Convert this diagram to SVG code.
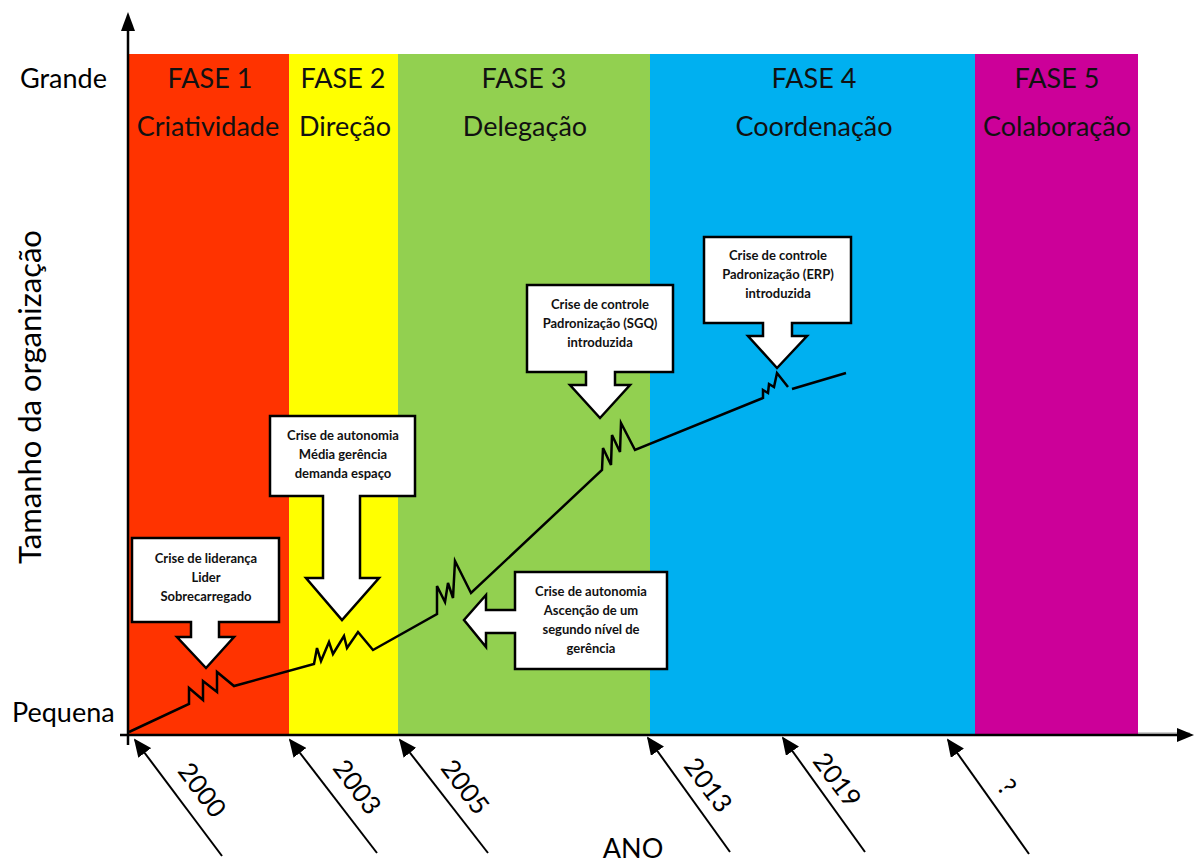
<svg xmlns="http://www.w3.org/2000/svg" width="1194" height="863" viewBox="0 0 1194 863">
<defs>
<style>
.big{font-family:Lato,"Liberation Sans",sans-serif;font-size:27px;fill:#000}
.yt{font-family:Lato,"Liberation Sans",sans-serif;font-size:31px;fill:#000;text-anchor:middle}
.ph{font-family:Lato,"Liberation Sans",sans-serif;font-size:27px;fill:#111;text-anchor:middle}
.co{font-family:Lato,"Liberation Sans",sans-serif;font-size:13px;font-weight:bold;fill:#111;text-anchor:middle}
.yr{font-family:Lato,"Liberation Sans",sans-serif;font-size:26px;fill:#000;text-anchor:middle}
.call{fill:#fff;stroke:#000;stroke-width:2.5;stroke-linejoin:miter}
.curve{fill:none;stroke:#000;stroke-width:2.5;stroke-linejoin:miter}
.ax{stroke:#000;stroke-width:2.5;fill:none}
.yl{stroke:#000;stroke-width:2;fill:none}
</style>
<marker id="ahs" viewBox="0 0 10 10" refX="9" refY="5" markerWidth="18" markerHeight="16" orient="auto" markerUnits="userSpaceOnUse" preserveAspectRatio="none">
<path d="M0,0 L10,5 L0,10 z" fill="#000"/>
</marker>
</defs>
<rect width="1194" height="863" fill="#fff"/>

<g id="bands">
<rect x="128" y="54" width="161" height="680" fill="#FF3300"/>
<rect x="289" y="54" width="109" height="680" fill="#FFFF00"/>
<rect x="398" y="54" width="252" height="680" fill="#92D050"/>
<rect x="650" y="54" width="325" height="680" fill="#00B0F0"/>
<rect x="975" y="54" width="163" height="680" fill="#CC0099"/>
<line x1="1138" y1="733" x2="1190" y2="733" stroke="#999" stroke-width="1"/>
</g>

<g id="phase-labels">
<text class="ph" x="210" y="88">FASE 1</text>
<text class="ph" x="208" y="136">Criatividade</text>
<text class="ph" x="343" y="88">FASE 2</text>
<text class="ph" x="345" y="136">Direção</text>
<text class="ph" x="524" y="88">FASE 3</text>
<text class="ph" x="525" y="136">Delegação</text>
<text class="ph" x="814" y="88">FASE 4</text>
<text class="ph" x="814" y="136">Coordenação</text>
<text class="ph" x="1057" y="88">FASE 5</text>
<text class="ph" x="1057" y="136">Colaboração</text>
</g>

<g id="axes">
<line class="ax" x1="128" y1="745" x2="128" y2="30"/>
<path d="M121,31 L128,12 L135,31 z" fill="#000"/>
<line class="ax" x1="120" y1="735" x2="1178" y2="735"/>
<path d="M1177,728 L1194,735 L1177,742 z" fill="#000"/>
<text class="big" x="20" y="88">Grande</text>
<text class="big" x="12" y="722">Pequena</text>
<text class="yt" x="0" y="0" transform="translate(41,397) rotate(-90)">Tamanho da organização</text>
<text class="big" x="633" y="858" text-anchor="middle">ANO</text>
</g>

<g id="connectors">
<path class="curve" d="M129,732 L189,704 L189,688 L203,700 L203,681 L217,692 L217,672 L234,686 L314,664 L317,648 L321,661 L329,642 L333,654 L344,636 L347,648 L358,632 L373,650 L437,614 L437,586 L445,602 L448,583 L453,598 L455,561 L471,593 L602,470 L603,448 L611,465 L612,435 L620,452 L621,423 L635,450 L763,398 L763,390 L768,393 L769,384 L774,387 L777,373 L788,387"/>
<line class="curve" x1="792" y1="389" x2="846" y2="373"/>
</g>

<g id="callout-1">
<path class="call" d="M132,538 H279 V622 H219 V637 H234 L206,668 L177,637 H191 V622 H132 Z"/>
<text class="co" x="206" y="563">Crise de liderança</text>
<text class="co" x="206" y="582">Lider</text>
<text class="co" x="206" y="601">Sobrecarregado</text>
</g>

<g id="callout-2">
<path class="call" d="M270,416 H415 V496 H360 V578 H379 L342,620 L306,578 H323 V496 H270 Z"/>
<text class="co" x="343" y="440">Crise de autonomia</text>
<text class="co" x="343" y="459">Média gerência</text>
<text class="co" x="343" y="478">demanda espaço</text>
</g>

<g id="callout-3">
<path class="call" d="M515,572 H667 V669 H515 V633 H486 V647 L464,620 L486,595 V610 H515 Z"/>
<text class="co" x="591" y="596">Crise de autonomia</text>
<text class="co" x="591" y="615">Ascenção de um</text>
<text class="co" x="591" y="634">segundo nível de</text>
<text class="co" x="591" y="653">gerência</text>
</g>

<g id="callout-4">
<path class="call" d="M527,285 H673 V372 H615 V385 H630 L600,418 L570,385 H586 V372 H527 Z"/>
<text class="co" x="600" y="309">Crise de controle</text>
<text class="co" x="600" y="328">Padronização (SGQ)</text>
<text class="co" x="600" y="347">introduzida</text>
</g>

<g id="callout-5">
<path class="call" d="M704,237 H851 V323 H792 V336 H807 L777,368 L748,336 H763 V323 H704 Z"/>
<text class="co" x="778" y="260">Crise de controle</text>
<text class="co" x="778" y="279">Padronização (ERP)</text>
<text class="co" x="778" y="298">introduzida</text>
</g>

<g id="year-2000">
<line class="yl" x1="222" y1="856" x2="135" y2="740" marker-end="url(#ahs)"/>
<text class="yr" transform="translate(202,790) rotate(53)" y="9">2000</text>
</g>
<g id="year-2003">
<line class="yl" x1="377" y1="853" x2="290" y2="740" marker-end="url(#ahs)"/>
<text class="yr" transform="translate(357,787) rotate(53)" y="9">2003</text>
</g>
<g id="year-2005">
<line class="yl" x1="488" y1="853" x2="400" y2="740" marker-end="url(#ahs)"/>
<text class="yr" transform="translate(465,787) rotate(53)" y="9">2005</text>
</g>
<g id="year-2013">
<line class="yl" x1="730" y1="852" x2="648" y2="738" marker-end="url(#ahs)"/>
<text class="yr" transform="translate(708,785) rotate(53)" y="9">2013</text>
</g>
<g id="year-2019">
<line class="yl" x1="865" y1="852" x2="783" y2="738" marker-end="url(#ahs)"/>
<text class="yr" transform="translate(837,780) rotate(53)" y="9">2019</text>
</g>
<g id="year-unknown">
<line class="yl" x1="1029" y1="854" x2="948" y2="740" marker-end="url(#ahs)"/>
<text class="yr" transform="translate(1007,787) rotate(53)" y="9">?</text>
</g>
</svg>
